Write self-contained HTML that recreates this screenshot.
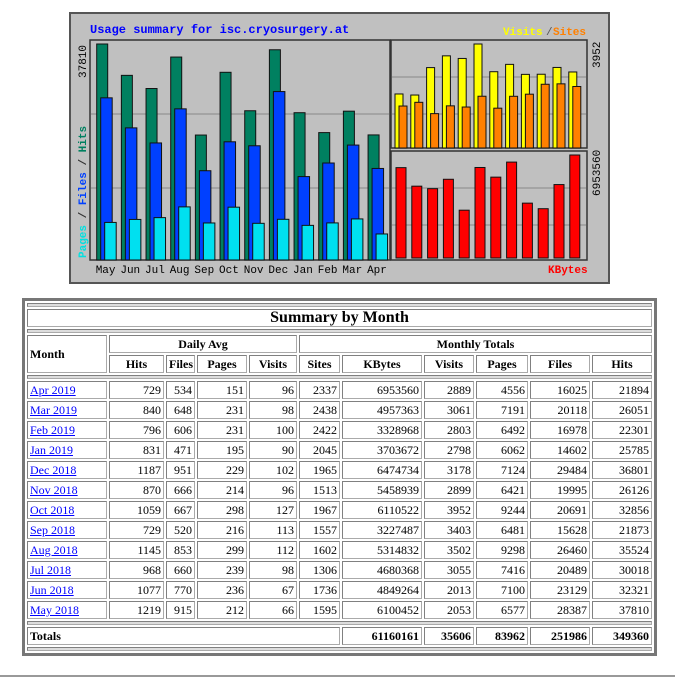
<!DOCTYPE html>
<html><head><meta charset="utf-8"><style>
body{margin:0;background:#fff;width:675px;height:687px;position:relative;overflow:hidden;font-family:"Liberation Serif",serif}
#chart{position:absolute;left:0;top:0}
table.s{position:absolute;left:22px;top:298px;width:633px;table-layout:fixed;border:3px solid #777;border-collapse:separate;border-spacing:2px;background:#fff;font-size:12px}
table.s td,table.s th{border:1px solid #808080;border-right-color:#aaa;border-bottom-color:#aaa;padding:0 2px;height:16px;line-height:16px;overflow:hidden;white-space:nowrap}
table.s th{font-weight:bold}
table.s td{text-align:right}
table.s td.m{text-align:left}
table.s td.m a{color:#00f;text-decoration:underline}
tr.sep td{height:2px;padding:0;line-height:0;font-size:0;background:#ddd}
.title th{height:28px;font-size:16px}
</style></head><body>
<svg id="chart" width="675" height="295" xmlns="http://www.w3.org/2000/svg" font-family="Liberation Mono, monospace">
<rect x="70" y="13" width="539" height="270" fill="#c0c0c0" stroke="#555" stroke-width="2"/>
<text x="90" y="33" font-size="12" font-weight="bold" fill="#0000ff">Usage summary for isc.cryosurgery.at</text>
<text x="503" y="35" font-size="11" font-weight="bold" fill="#ffff00">Visits</text><text x="546" y="35" font-size="11" fill="#555">/</text><text x="553" y="35" font-size="11" font-weight="bold" fill="#ff8000">Sites</text>
<text x="548" y="273" font-size="11" font-weight="bold" fill="#ff0000">KBytes</text>
<rect x="90" y="40" width="300" height="220" fill="none" stroke="#333" stroke-width="1.5"/>
<rect x="391" y="40" width="196" height="108" fill="none" stroke="#333" stroke-width="1.5"/>
<rect x="391" y="151" width="196" height="109" fill="none" stroke="#333" stroke-width="1.5"/>
<g stroke="#888"><line x1="91" y1="114" x2="389" y2="114"/><line x1="91" y1="188" x2="389" y2="188"/>
<line x1="392" y1="77" x2="586" y2="77"/><line x1="392" y1="114" x2="586" y2="114"/>
<line x1="392" y1="188" x2="586" y2="188"/><line x1="392" y1="225" x2="586" y2="225"/></g>
<g transform="translate(86,78) rotate(-90)"><text font-size="11" fill="#000">37810</text></g>
<g transform="translate(86,258) rotate(-90)"><text font-size="11" font-weight="bold"><tspan fill="#00e0e0">Pages</tspan><tspan fill="#333"> / </tspan><tspan fill="#0040ff">Files</tspan><tspan fill="#333"> / </tspan><tspan fill="#008060">Hits</tspan></text></g>
<g transform="translate(600,68) rotate(-90)"><text font-size="11">3952</text></g>
<g transform="translate(600,196) rotate(-90)"><text font-size="11">6953560</text></g>
<g id="bars" stroke="#111" stroke-width="1"></g>
<g font-size="11" fill="#000" id="mon"></g>
</svg>
<table class="s">
<colgroup><col style="width:80px"><col style="width:55px"><col style="width:29px"><col style="width:50px"><col style="width:48px"><col style="width:41px"><col style="width:80px"><col style="width:50px"><col style="width:52px"><col style="width:60px"><col style="width:60px"></colgroup>
<tr class="sep"><td colspan="11"></td></tr>
<tr class="title"><th colspan="11">Summary by Month</th></tr>
<tr class="sep"><td colspan="11"></td></tr>
<tr><th rowspan="2" style="text-align:left">Month</th><th colspan="4">Daily Avg</th><th colspan="6">Monthly Totals</th></tr>
<tr><th>Hits</th><th>Files</th><th>Pages</th><th>Visits</th><th>Sites</th><th>KBytes</th><th>Visits</th><th>Pages</th><th>Files</th><th>Hits</th></tr>
<tr class="sep"><td colspan="11"></td></tr>
<tbody id="rows"></tbody>
<tr class="sep"><td colspan="11"></td></tr>
<tr><th colspan="6" style="text-align:left">Totals</th><th style="text-align:right">61160161</th><th style="text-align:right">35606</th><th style="text-align:right">83962</th><th style="text-align:right">251986</th><th style="text-align:right">349360</th></tr>
<tr class="sep"><td colspan="11"></td></tr>
</table>
<div style="position:absolute;left:0;top:675px;width:675px;height:2px;background:#999"></div>
<script>
var M=["May","Jun","Jul","Aug","Sep","Oct","Nov","Dec","Jan","Feb","Mar","Apr"];
var hits=[37810,32321,30018,35524,21873,32856,26126,36801,25785,22301,26051,21894];
var files=[28387,23129,20489,26460,15628,20691,19995,29484,14602,16978,20118,16025];
var pages=[6577,7100,7416,9298,6481,9244,6421,7124,6062,6492,7191,4556];
var vis=[2053,2013,3055,3502,3403,3952,2899,3178,2798,2803,3061,2889];
var sites=[1595,1736,1306,1602,1557,1967,1513,1965,2045,2422,2438,2337];
var kb=[6100452,4849264,4680368,5314832,3227487,6110522,5458939,6474734,3703672,3328968,4957363,6953560];
var s="",t="";
function r(x,y0,h,w,c){return '<rect x="'+x+'" y="'+(y0-h)+'" width="'+w+'" height="'+h+'" fill="'+c+'"/>';}
for(var i=0;i<12;i++){var x=96.7+i*24.67;
s+=r(x,260,hits[i]/37810*216,11,"#008060")+r(x+4,260,files[i]/37810*216,11.5,"#0040ff")+r(x+8,260,pages[i]/37810*216,11.5,"#00e0f0");
t+='<text x="'+(x-1)+'" y="273">'+M[i]+'</text>';
var x2=395+i*15.8;
s+=r(x2,148,vis[i]/3952*104,8,"#ffff00")+r(x2+4,148,sites[i]/3952*104,8,"#ff8000")+r(x2+1,258,kb[i]/6953560*103,10,"#ff0000");}
document.getElementById("bars").innerHTML=s;document.getElementById("mon").innerHTML=t;
var rows=[["Apr 2019",729,534,151,96,2337,6953560,2889,4556,16025,21894],["Mar 2019",840,648,231,98,2438,4957363,3061,7191,20118,26051],["Feb 2019",796,606,231,100,2422,3328968,2803,6492,16978,22301],["Jan 2019",831,471,195,90,2045,3703672,2798,6062,14602,25785],["Dec 2018",1187,951,229,102,1965,6474734,3178,7124,29484,36801],["Nov 2018",870,666,214,96,1513,5458939,2899,6421,19995,26126],["Oct 2018",1059,667,298,127,1967,6110522,3952,9244,20691,32856],["Sep 2018",729,520,216,113,1557,3227487,3403,6481,15628,21873],["Aug 2018",1145,853,299,112,1602,5314832,3502,9298,26460,35524],["Jul 2018",968,660,239,98,1306,4680368,3055,7416,20489,30018],["Jun 2018",1077,770,236,67,1736,4849264,2013,7100,23129,32321],["May 2018",1219,915,212,66,1595,6100452,2053,6577,28387,37810]];
var h="";rows.forEach(function(a){h+='<tr><td class="m"><a>'+a[0]+'</a></td>';for(var j=1;j<11;j++)h+='<td>'+a[j]+'</td>';h+='</tr>';});
document.getElementById("rows").innerHTML=h;
</script>
</body></html>
